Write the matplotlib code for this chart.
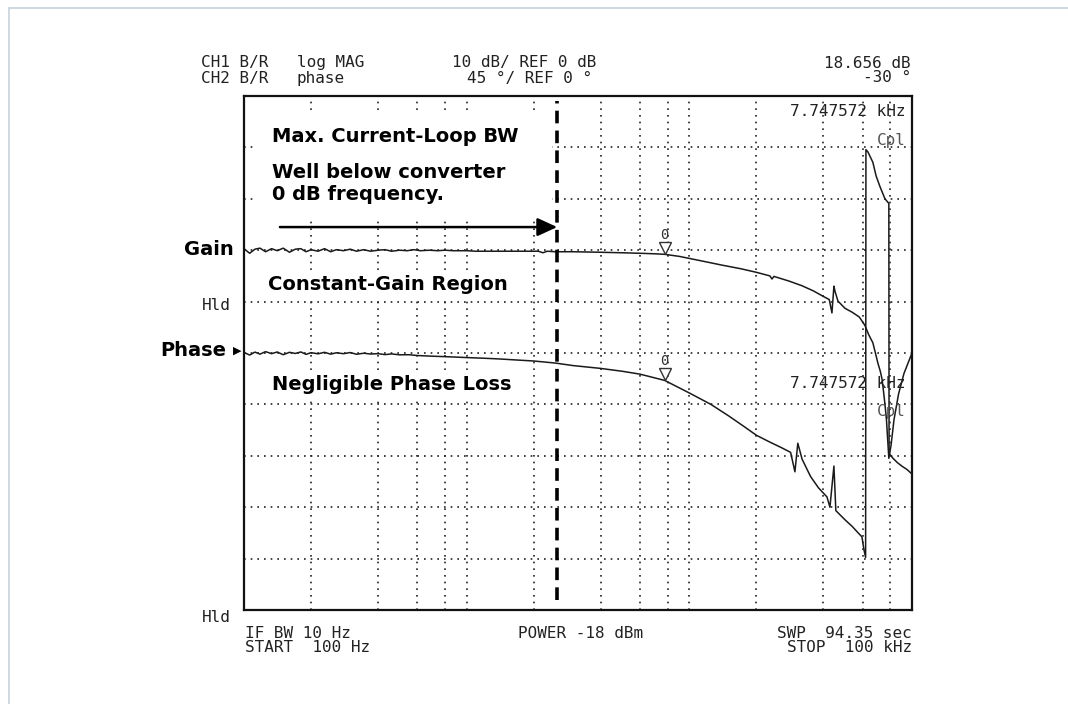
import numpy as np
import matplotlib
matplotlib.use("Agg")
import matplotlib.pyplot as plt
import matplotlib.transforms as mtransforms
from matplotlib.patches import Rectangle
from matplotlib.lines import Line2D

# CH1: gain (log MAG, 10 dB/div, ref 0 dB)
gain_freq = [100, 106, 112, 118, 125, 133, 141, 150, 160, 170,
             180, 190, 200, 215, 230, 245, 260, 280, 300, 320,
             345, 370, 400, 430, 460, 500, 540, 580, 620, 680,
             740, 800, 870, 950, 1000, 1100, 1200, 1350, 1500, 1700,
             1900, 2100, 2200, 2300, 2500, 3000, 4000, 5000, 6000, 7000,
             7747.572, 9000, 10000, 12000, 14000, 17000, 20000, 23000, 23500, 24000,
             28000, 32000, 36000, 40000, 42500, 43700, 44600, 45100, 46500, 50000,
             54000, 58000, 61400, 64000, 66700, 68500, 70300, 72000, 73300, 74500,
             75600, 76800, 77800, 78700, 80500, 83000, 87000, 92000, 100000]
gain_db = [0.3, -0.6, 0.2, 0.4, -0.3, 0.3, -0.1, 0.4, -0.4, 0.2,
           0.3, -0.3, 0.1, -0.2, 0.3, -0.3, 0.1, -0.1, 0.2, -0.2,
           0.1, -0.2, 0.0, 0.1, -0.2, 0.0, -0.1, 0.1, -0.1, 0.0,
           -0.1, 0.0, -0.1, -0.1, -0.1, -0.2, -0.2, -0.2, -0.2, -0.2,
           -0.2, -0.2, -0.5, -0.2, -0.3, -0.3, -0.4, -0.5, -0.6, -0.7,
           -0.8, -1.2, -1.6, -2.3, -2.9, -3.6, -4.3, -5.0, -5.6, -5.1,
           -6.0, -6.9, -7.9, -9.0, -9.6, -12.2, -7.0, -8.0, -9.9, -11.3,
           -12.1, -13.0, -14.6, -16.5, -18.0, -20.0, -22.0, -23.5, -25.0, -27.5,
           -30.0, -33.0, -37.0, -40.5, -38.0, -33.0, -28.0, -24.0, -20.0]

# CH2: phase (45 deg/div, ref 0 deg), wraps at -180
phase_freq = [100, 106, 112, 118, 125, 133, 141, 150, 160, 170,
              180, 190, 200, 215, 230, 245, 260, 280, 300, 320,
              345, 370, 400, 430, 460, 500, 550, 600, 700, 800,
              900, 1000, 1200, 1400, 1700, 2000, 2500, 3000, 4000, 5000,
              6000, 7747.572, 10000, 12500, 15000, 17500, 20000, 23000, 26000, 28500,
              29800, 30700, 32100, 35000, 38000, 41500, 42800, 44600, 45500, 50000,
              54000, 57000, 59600, 60800, 61900, 62100, 63400, 66700, 69000, 71700,
              75600, 78700, 78900, 82000, 86000, 90000, 95000, 100000]
phase_deg = [0.5, -1.8, 0.8, -1.0, 1.2, -0.6, 0.9, -1.5, 0.6, -0.4,
             0.9, -1.2, 0.3, -0.7, 0.6, -1.0, 0.2, -0.6, 0.4, -1.1,
             -0.2, -0.9, -0.6, -1.4, -0.8, -1.6, -1.5, -2.2, -2.8, -3.2,
             -3.6, -4.0, -4.6, -5.2, -6.2, -7.0, -8.8, -11.0, -13.5, -16.0,
             -18.5, -24.0, -35.0, -45.0, -55.0, -64.0, -72.0, -78.0, -83.0, -87.0,
             -104.0, -79.0, -93.0, -108.0, -118.0, -126.0, -135.0, -99.0, -138.0, -146.0,
             -152.0, -157.0, -161.0, -172.0, -179.0, 178.0, 176.0, 167.0, 155.0, 146.0,
             135.0, 131.0, -88.0, -92.0, -96.0, -99.0, -102.0, -106.0]

grid_freq = [200, 400, 600, 800, 1e3, 2e3, 4e3, 6e3, 8e3, 1e4, 2e4, 4e4, 6e4, 8e4]
marker_freq = 7747.572
loop_bw_freq = 2550

W, H = 1068, 704


def fx(x):
    return x / W


def fy(y):
    return 1 - y / H


fig = plt.figure(figsize=(W / 100, H / 100), dpi=100)
fig.patch.set_facecolor("white")

ax = fig.add_axes([fx(244), fy(610), 668 / W, 514 / H])
ax.set_xscale("log")
ax.set_xlim(100, 1e5)
ax.set_ylim(-70, 30)
ax.set_xticks(grid_freq)
ax.xaxis.set_minor_locator(matplotlib.ticker.NullLocator())
ax.set_yticks(np.arange(-60, 30, 10))
ax.tick_params(length=0, labelbottom=False, labelleft=False)
ax.set_axisbelow(True)
ax.grid(True, linestyle=(0, (1, 3)), linewidth=1.2, color="#222222")
for sp in ax.spines.values():
    sp.set_linewidth(1.6)
    sp.set_color("#111111")

ax2 = ax.twinx()
ax2.set_ylim(-225, 225)
ax2.set_yticks([])
ax2.tick_params(length=0, labelright=False)
for sp in ax2.spines.values():
    sp.set_visible(False)

# white area behind the top annotation block
ax.add_patch(Rectangle((11 / 668, (610 - 218) / 514), 297 / 668, 103 / 514,
                       transform=ax.transAxes, facecolor="white", edgecolor="none", zorder=1))

ax.plot(gain_freq, gain_db, color="#1a1a1a", lw=1.1, zorder=2)
ax2.plot(phase_freq, phase_deg, color="#1a1a1a", lw=1.1, zorder=2)

# max current-loop bandwidth line
ax.axvline(loop_bw_freq, ymin=0.02, ymax=0.99, color="black", lw=2.6,
           dashes=(3.5, 2.0), zorder=3)
ax.annotate("", xy=(loop_bw_freq, 4.5), xytext=(145, 4.5),
            arrowprops=dict(arrowstyle="-|>,head_length=1.2,head_width=0.55",
                            color="black", lw=1.8, shrinkA=0, shrinkB=0), zorder=4)

# markers at 7.747572 kHz
mono = "DejaVu Sans Mono"
g_mk = np.interp(np.log10(marker_freq), np.log10(gain_freq), gain_db)
p_mk = np.interp(np.log10(marker_freq), np.log10(phase_freq), phase_deg)
for a, val in ((ax, g_mk), (ax2, p_mk)):
    off = mtransforms.offset_copy(a.transData, fig=fig, y=4.3, units="points")
    a.plot([marker_freq], [val], marker="v", ms=9, mfc="white", mec="#333333",
           mew=1.0, transform=off, zorder=5, clip_on=False)
    a.annotate("0", xy=(marker_freq, val), xytext=(0, 19), textcoords="offset pixels",
               ha="center", va="center", fontsize=10, family=mono, color="#333333")

# header / footer instrument text
txt = dict(family=mono, fontsize=11.5, color="#222222", va="center")
fig.text(fx(201), fy(63), "CH1 B/R", **txt)
fig.text(fx(297), fy(63), "log MAG", **txt)
fig.text(fx(452), fy(63), "10 dB/ REF 0 dB", **txt)
fig.text(fx(911), fy(63), "18.656 dB", ha="right", **txt)
fig.text(fx(201), fy(78), "CH2 B/R", **txt)
fig.text(fx(297), fy(78), "phase", **txt)
fig.text(fx(467), fy(78), "45 °/ REF 0 °", **txt)
fig.text(fx(911), fy(78), "-30 °", ha="right", **txt)

fig.text(fx(202), fy(306), "Hld", **txt)
fig.text(fx(202), fy(617), "Hld", **txt)
fig.text(fx(245), fy(634), "IF BW 10 Hz", **txt)
fig.text(fx(245), fy(648), "START  100 Hz", **txt)
fig.text(fx(518), fy(634), "POWER -18 dBm", **txt)
fig.text(fx(912), fy(634), "SWP  94.35 sec", ha="right", **txt)
fig.text(fx(912), fy(648), "STOP  100 kHz", ha="right", **txt)

fig.text(fx(906), fy(112), "7.747572 kHz", ha="right", **txt)
fig.text(fx(906), fy(140), "Cpl", ha="right", **dict(txt, color="#555555"))
fig.text(fx(906), fy(383), "7.747572 kHz", ha="right", **txt)
fig.text(fx(906), fy(411), "Cpl", ha="right", **dict(txt, color="#555555"))

# bold annotations
bold = dict(family="DejaVu Sans", fontweight="bold", fontsize=14, color="black", va="center")
fig.text(fx(272), fy(136), "Max. Current-Loop BW", **bold)
fig.text(fx(272), fy(173), "Well below converter", **bold)
fig.text(fx(272), fy(195), "0 dB frequency.", **bold)
fig.text(fx(268), fy(285), "Constant-Gain Region",
         bbox=dict(facecolor="white", edgecolor="none", pad=1.5), **bold)
fig.text(fx(272), fy(385), "Negligible Phase Loss",
         bbox=dict(facecolor="white", edgecolor="none", pad=1.5), **bold)
fig.text(fx(234), fy(249), "Gain", ha="right", **bold)
fig.text(fx(226), fy(351), "Phase", ha="right", **bold)
fig.text(fx(233), fy(351), "\u25B6", fontsize=8, color="black", va="center")

# light frame around the image
fig.add_artist(Line2D([fx(9), 1], [fy(8), fy(8)], color="#c8d3dc", lw=1.2))
fig.add_artist(Line2D([fx(9), fx(9)], [fy(8), 0], color="#c8d3dc", lw=1.2))

fig.savefig("out.png", dpi=100, facecolor="white")
